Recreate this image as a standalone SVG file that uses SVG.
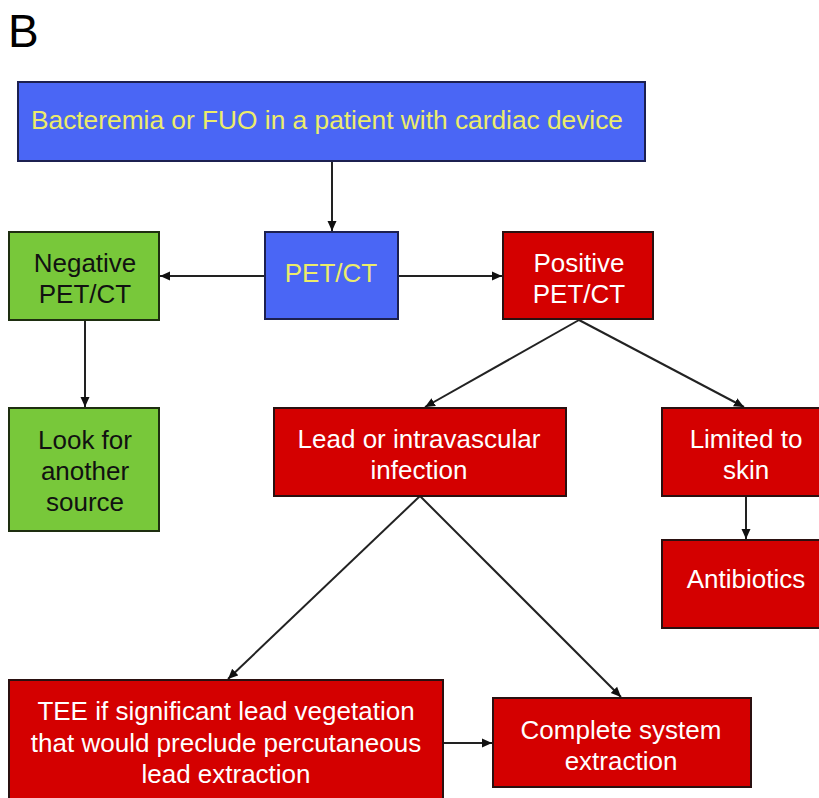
<svg xmlns="http://www.w3.org/2000/svg" width="819" height="798" viewBox="0 0 819 798">
<defs>
<marker id="ah" markerWidth="11" markerHeight="11" refX="10" refY="5" orient="auto" markerUnits="userSpaceOnUse">
<path d="M0,0.5 L10,5 L0,9.5 Z" fill="#111"/>
</marker>
<style>
.blue{fill:#4a66f5;stroke:#1c2050;stroke-width:2}
.red{fill:#d40000;stroke:#2a1010;stroke-width:2}
.green{fill:#78c83a;stroke:#1e2e10;stroke-width:2}
text{font-family:"Liberation Sans",Arial,sans-serif;font-size:26px;text-anchor:middle}
.yt{fill:#ecec6a}
.wt{fill:#ffffff}
.kt{fill:#111111}
.edge{stroke:#222;stroke-width:2;fill:none;marker-end:url(#ah)}
</style>
</defs>
<rect width="819" height="798" fill="#ffffff"/>
<text x="8" y="47" style="font-size:46px;text-anchor:start" fill="#000">B</text>
<g id="connectors">
<line class="edge" x1="332" y1="161" x2="332" y2="231"/>
<line class="edge" x1="265" y1="276" x2="160" y2="276"/>
<line class="edge" x1="398" y1="276" x2="502" y2="276"/>
<line class="edge" x1="85" y1="320" x2="85" y2="407"/>
<line class="edge" x1="579" y1="320" x2="425" y2="407"/>
<line class="edge" x1="579" y1="320" x2="744" y2="407"/>
<line class="edge" x1="746" y1="496" x2="746" y2="539"/>
<line class="edge" x1="420" y1="496" x2="228" y2="679"/>
<line class="edge" x1="420" y1="496" x2="621" y2="697"/>
<line class="edge" x1="443" y1="743" x2="492" y2="743"/>
</g>
<g id="n-start">
<rect class="blue" x="18" y="82" width="627" height="79"/>
<text class="yt" x="327" y="129" textLength="592" lengthAdjust="spacingAndGlyphs">Bacteremia or FUO in a patient with cardiac device</text>
</g>
<g id="n-petct">
<rect class="blue" x="265" y="232" width="133" height="87"/>
<text class="yt" x="331" y="282">PET/CT</text>
</g>
<g id="n-negative">
<rect class="green" x="9" y="232" width="150" height="88"/>
<text class="kt" x="85" y="272">Negative</text>
<text class="kt" x="85" y="303">PET/CT</text>
</g>
<g id="n-positive">
<rect class="red" x="503" y="232" width="150" height="87"/>
<text class="wt" x="579" y="272">Positive</text>
<text class="wt" x="579" y="303">PET/CT</text>
</g>
<g id="n-another">
<rect class="green" x="9" y="408" width="150" height="123"/>
<text class="kt" x="85" y="449">Look for</text>
<text class="kt" x="85" y="480">another</text>
<text class="kt" x="85" y="511">source</text>
</g>
<g id="n-lead">
<rect class="red" x="274" y="408" width="292" height="88"/>
<text class="wt" x="419" y="448">Lead or intravascular</text>
<text class="wt" x="419" y="479">infection</text>
</g>
<g id="n-skin">
<rect class="red" x="662" y="408" width="165" height="88"/>
<text class="wt" x="746" y="448">Limited to</text>
<text class="wt" x="746" y="479">skin</text>
</g>
<g id="n-antibiotics">
<rect class="red" x="662" y="540" width="165" height="88"/>
<text class="wt" x="746" y="588">Antibiotics</text>
</g>
<g id="n-tee">
<rect class="red" x="9" y="680" width="434" height="130"/>
<text class="wt" x="226" y="720">TEE if significant lead vegetation</text>
<text class="wt" x="226" y="752">that would preclude percutaneous</text>
<text class="wt" x="226" y="783">lead extraction</text>
</g>
<g id="n-complete">
<rect class="red" x="493" y="698" width="258" height="89"/>
<text class="wt" x="621" y="739">Complete system</text>
<text class="wt" x="621" y="770">extraction</text>
</g>
</svg>
